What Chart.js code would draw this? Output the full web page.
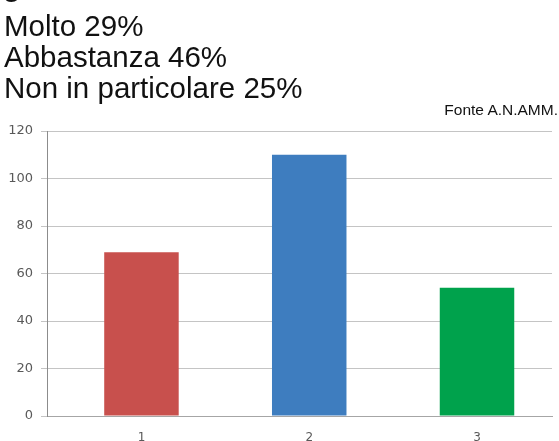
<!DOCTYPE html>
<html>
<head>
<meta charset="utf-8">
<script src="https://cdn.jsdelivr.net/npm/chart.js@4/dist/chart.umd.min.js"></script>
<style>
  html, body { margin: 0; padding: 0; background: #fff; }
  #wrap { position: relative; width: 559px; height: 441px; overflow: hidden; }
  #mycanvas { position: absolute; left: 0; top: 0; }
  .txt { position: absolute; font-family: "Liberation Sans", Arial, sans-serif; color: #111; white-space: nowrap; }
  #cut { left: 3px; top: -30px; font-size: 29px; font-weight: bold; }
  #lines { left: 4px; top: 10px; font-size: 29.5px; line-height: 31px; }
  #fonte { right: 1px; top: 101px; font-size: 15.5px; }
</style>
</head>
<body>
<div id="wrap">
  <canvas id="mycanvas" width="559" height="441"></canvas>
  <div class="txt" id="cut">g</div>
  <div class="txt" id="lines">Molto 29%<br>Abbastanza 46%<br>Non in particolare 25%</div>
  <div class="txt" id="fonte">Fonte A.N.AMM.</div>
</div>
<script>
// dati
var categories = [1, 2, 3];
var values = [69, 110, 54];
var barColors = ['#C8504D', '#3E7DBF', '#00A24C'];
var yTicks = [0, 20, 40, 60, 80, 100, 120];

function createBarGraph(){

    var points = [];
    for(var i in categories){
        points.push({x: categories[i], y: values[i]});
    }

    var chartData = {
        datasets: [
            {
                label: 'Risposte',
                backgroundColor: barColors,
                borderWidth: 0,
                barPercentage: 1,
                categoryPercentage: 0.444,
                data: points
            }
        ]
    };

    var ctx = document.getElementById("mycanvas");

    var barGraph = new Chart(ctx, {
        type: 'bar',
        data: chartData,
        options: {
            responsive: false,
            animation: false,
            layout: { padding: { top: 131, right: 7, bottom: 0, left: 0 } },
            plugins: { legend: { display: false }, tooltip: { enabled: false } },
            scales: {
                x: {
                    type: 'linear',
                    offset: false,
                    min: 0.437,
                    max: 3.447,
                    grid: { display: false },
                    border: { display: true, color: '#a6a6a6', width: 1 },
                    afterBuildTicks: function(scale){
                        scale.ticks = categories.map(function(c){ return {value: c}; });
                    },
                    afterFit: function(scale){ scale.height = 25; },
                    ticks: {
                        color: '#595959',
                        padding: 7,
                        font: { family: 'DejaVu Sans', size: 12 },
                        callback: function(v){ return String(v); }
                    }
                },
                y: {
                    min: 0,
                    max: 120,
                    afterBuildTicks: function(scale){
                        scale.ticks = yTicks.map(function(t){ return {value: t}; });
                    },
                    afterFit: function(scale){ scale.width = 47; },
                    grid: { color: '#c4c4c4', tickLength: 6, lineWidth: 1 },
                    border: { display: true, color: '#8c8c8c', width: 1 },
                    ticks: {
                        color: '#595959',
                        padding: 8,
                        font: { family: 'DejaVu Sans', size: 13 }
                    }
                }
            }
        }
    });
}

createBarGraph();
</script>
</body>
</html>
